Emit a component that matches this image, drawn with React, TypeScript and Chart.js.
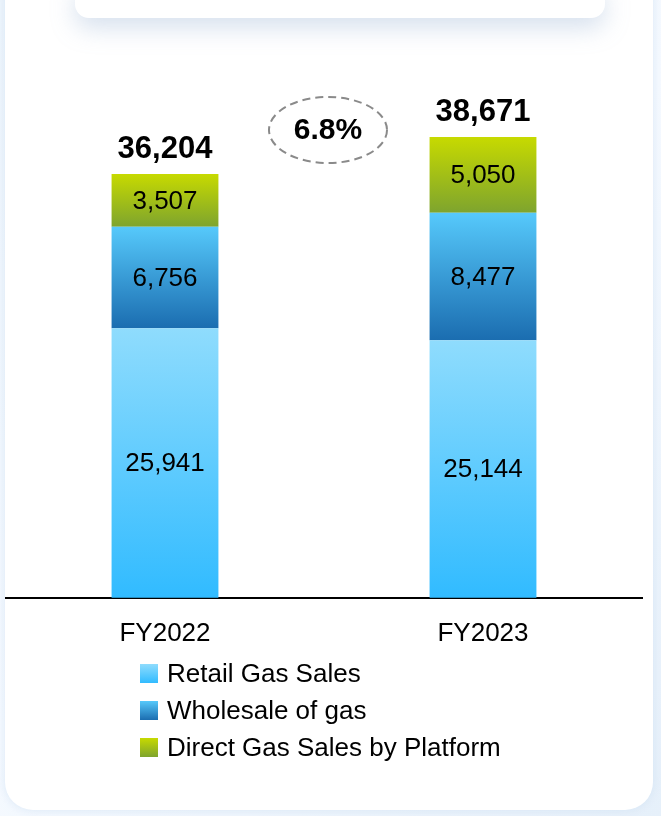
import React, { useEffect, useRef } from "react";
import { Chart, registerables } from "chart.js";

Chart.register(...registerables);

// ---- data ----
const categories = ["FY2022", "FY2023"];
const retailGasSales = [25941, 25144];
const wholesaleOfGas = [6756, 8477];
const directGasSales = [3507, 5050];
const seriesNames = ["Retail Gas Sales", "Wholesale of gas", "Direct Gas Sales by Platform"];
const yAxisMin = 8000;
const yAxisMax = 40000;

// ---- styles ----
const FONT = '"Liberation Sans", Arial, sans-serif';
const gradients: [string, string][] = [
  ["#8fdcfd", "#31bbff"],
  ["#56c9fb", "#1b6db0"],
  ["#c7da00", "#7ea42e"],
];

const seriesValues = [retailGasSales, wholesaleOfGas, directGasSales];
const totals = categories.map((_, i) => seriesValues.reduce((s, arr) => s + arr[i], 0));
const fmt = (v: number) => v.toLocaleString("en-US");

function stackRange(d: number, i: number): [number, number] {
  let start = 0;
  for (let k = 0; k < d; k++) start += seriesValues[k][i];
  return [start, start + seriesValues[d][i]];
}

const labelsPlugin = {
  id: "customLabels",
  afterDatasetsDraw(chart: any) {
    const ctx = chart.ctx as CanvasRenderingContext2D;
    const area = chart.chartArea;
    ctx.save();
    ctx.fillStyle = "#000";
    ctx.textAlign = "center";
    ctx.textBaseline = "middle";
    ctx.font = `26px ${FONT}`;
    chart.data.datasets.forEach((ds: any, d: number) => {
      const meta = chart.getDatasetMeta(d);
      meta.data.forEach((el: any, i: number) => {
        const top = Math.max(area.top, el.y);
        const bottom = Math.min(area.bottom, el.base);
        ctx.fillText(fmt(ds.data[i]), el.x, (top + bottom) / 2 + 1);
      });
    });
    // totals
    const lastMeta = chart.getDatasetMeta(chart.data.datasets.length - 1);
    ctx.font = `bold 31px ${FONT}`;
    lastMeta.data.forEach((el: any, i: number) => {
      ctx.fillText(fmt(totals[i]), el.x, el.y - 25);
    });
    // growth bubble
    const x0 = lastMeta.data[0].x;
    const x1 = lastMeta.data[1].x;
    const cx = (x0 + x1) / 2 + 4;
    const cy = area.top + 13;
    const growth = ((totals[1] / totals[0] - 1) * 100).toFixed(1) + "%";
    ctx.beginPath();
    ctx.setLineDash([8, 5]);
    ctx.lineWidth = 2;
    ctx.strokeStyle = "#8a8a8a";
    ctx.ellipse(cx, cy, 59, 33, 0, 0, Math.PI * 2);
    ctx.stroke();
    ctx.setLineDash([]);
    ctx.fillStyle = "#000";
    ctx.font = `bold 30px ${FONT}`;
    ctx.fillText(growth, cx, cy + 1);
    ctx.restore();
  },
  afterDraw(chart: any) {
    const ctx = chart.ctx as CanvasRenderingContext2D;
    ctx.save();
    ctx.font = `26px ${FONT}`;
    ctx.textBaseline = "middle";
    ctx.textAlign = "left";
    chart.data.datasets.forEach((ds: any, d: number) => {
      const cy = 674 + d * 37;
      const g = ctx.createLinearGradient(0, cy - 10, 0, cy + 9);
      g.addColorStop(0, gradients[d][0]);
      g.addColorStop(1, gradients[d][1]);
      ctx.fillStyle = g;
      ctx.fillRect(140, cy - 10, 18, 19);
      ctx.fillStyle = "#000";
      ctx.fillText(ds.label, 167, cy + 1);
    });
    ctx.restore();
  },
};

export default function App() {
  const ref = useRef<HTMLCanvasElement | null>(null);
  useEffect(() => {
    if (!ref.current) return;
    const chart = new Chart(ref.current, {
      type: "bar",
      data: {
        labels: categories,
        datasets: seriesValues.map((vals, d) => ({
          label: seriesNames[d],
          data: vals,
          backgroundColor: (c: any) => {
            const chart = c.chart;
            const area = chart.chartArea;
            if (c.type !== "data" || !area || !chart.scales.y) return gradients[d][0];
            const [s, e] = stackRange(d, c.dataIndex);
            const y = chart.scales.y;
            const pb = Math.min(area.bottom, y.getPixelForValue(s));
            const pt = y.getPixelForValue(e);
            const g = chart.ctx.createLinearGradient(0, pt, 0, pb);
            g.addColorStop(0, gradients[d][0]);
            g.addColorStop(1, gradients[d][1]);
            return g;
          },
          borderWidth: 0,
          categoryPercentage: 1,
          barPercentage: 0.336,
        })),
      },
      options: {
        animation: false,
        responsive: false,
        devicePixelRatio: 1,
        layout: { padding: { top: 117, left: 6, right: 19, bottom: 147 } },
        plugins: { legend: { display: false }, tooltip: { enabled: false } },
        scales: {
          x: {
            stacked: true,
            grid: { display: false, drawTicks: false },
            border: { display: true, color: "#000", width: 2 },
            ticks: { color: "#000", font: { family: FONT, size: 26 }, padding: 20 },
          },
          y: {
            stacked: true,
            display: false,
            min: yAxisMin,
            max: yAxisMax,
          },
        },
      },
      plugins: [labelsPlugin],
    });
    return () => chart.destroy();
  }, []);

  return (
    <div
      style={{
        position: "fixed",
        top: 0,
        left: 0,
        width: 661,
        height: 816,
        overflow: "hidden",
        background: "linear-gradient(135deg, #eef5fc 0%, #f6faff 50%, #e6f0fa 100%)",
      }}
    >
      <div
        style={{
          position: "absolute",
          left: 5,
          top: -30,
          width: 648,
          height: 840,
          borderRadius: 28,
          background: "#fff",
          boxShadow: "0 0 10px rgba(200,220,240,0.6)",
        }}
      />
      <div
        style={{
          position: "absolute",
          left: 75,
          top: -20,
          width: 530,
          height: 38,
          borderRadius: 14,
          background: "#fff",
          boxShadow: "0 10px 24px rgba(140,170,205,0.35)",
        }}
      />
      <canvas ref={ref} width={661} height={816} style={{ position: "absolute", left: 0, top: 0 }} />
    </div>
  );
}
